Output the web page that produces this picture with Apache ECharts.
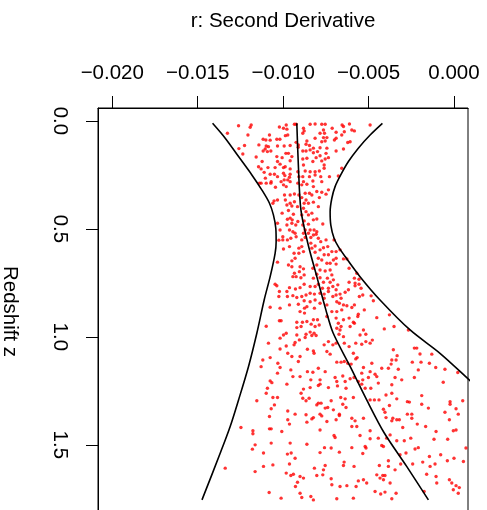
<!DOCTYPE html>
<html>
<head>
<meta charset="utf-8">
<script src="https://cdn.jsdelivr.net/npm/echarts@6/dist/echarts.min.js"></script>
<style>
html,body{margin:0;padding:0;background:#fff;}
#chart{width:487px;height:510px;}
</style>
</head>
<body>
<div id="chart"></div>
<script>
// ---- data ----
const xTicks = [-0.020, -0.015, -0.010, -0.005, 0.000];
const zTicks = [0.0, 0.5, 1.0, 1.5];

const centerLine = [[-0.00920,0.011],[-0.00911,0.204],[-0.00896,0.412],[-0.00856,0.565],[-0.00803,0.721],[-0.00750,0.875],[-0.00708,0.981],[-0.00608,1.137],[-0.00511,1.292],[-0.00409,1.444],[-0.00277,1.600],[-0.00150,1.755]];

const leftBand = [[-0.01413,0.011],[-0.01339,0.080],[-0.01261,0.165],[-0.01183,0.250],[-0.01125,0.319],[-0.01080,0.381],[-0.01057,0.435],[-0.01043,0.497],[-0.01041,0.559],[-0.01047,0.613],[-0.01076,0.721],[-0.01111,0.829],[-0.01154,0.983],[-0.01203,1.138],[-0.01261,1.292],[-0.01310,1.415],[-0.01368,1.538],[-0.01475,1.755]];

const rightBand = [[-0.00419,0.011],[-0.00491,0.065],[-0.00560,0.126],[-0.00618,0.188],[-0.00663,0.250],[-0.00696,0.304],[-0.00715,0.358],[-0.00725,0.420],[-0.00721,0.482],[-0.00702,0.543],[-0.00677,0.582],[-0.00637,0.628],[-0.00550,0.721],[-0.00433,0.829],[-0.00257,0.968],[-0.00082,1.076],[0.00078,1.191],[0.00240,1.310]];

const points = [
[-0.01261,0.022],[-0.01187,0.019],[-0.01193,0.029],[-0.01326,0.057],[-0.01206,0.065],[-0.01259,0.128],[-0.01226,0.114],[-0.01236,0.153],[-0.01117,0.085],[-0.01101,0.088],[-0.01076,0.089],[-0.01080,0.065],[-0.01037,0.085],[-0.01019,0.085],[-0.01022,0.028],[-0.00998,0.034],[-0.00978,0.038],[-0.00982,0.019],[-0.00934,0.015],[-0.00924,0.015],[-0.00987,0.068],[-0.00973,0.065],[-0.01142,0.111],[-0.01099,0.116],[-0.01086,0.119],[-0.01105,0.130],[-0.01072,0.139],[-0.01117,0.139],[-0.01092,0.142],[-0.01033,0.116],[-0.00994,0.116],[-0.00959,0.114],[-0.00924,0.099],[-0.00911,0.111],[-0.00912,0.122],[-0.01158,0.167],[-0.01123,0.188],[-0.01037,0.165],[-0.01006,0.170],[-0.01033,0.188],[-0.01018,0.200],[-0.00949,0.165],[-0.00959,0.184],[-0.00984,0.150],[-0.00969,0.150],[-0.01144,0.212],[-0.01129,0.222],[-0.01089,0.216],[-0.01111,0.238],[-0.01076,0.247],[-0.01051,0.247],[-0.01033,0.258],[-0.00998,0.242],[-0.00990,0.253],[-0.00963,0.261],[-0.00959,0.247],[-0.00959,0.222],[-0.00914,0.235],[-0.00988,0.212],[-0.00998,0.216],[-0.01047,0.216],[-0.01104,0.265],[-0.01070,0.281],[-0.01129,0.288],[-0.01099,0.288],[-0.01072,0.288],[-0.01045,0.307],[-0.01012,0.281],[-0.00994,0.273],[-0.00973,0.273],[-0.00959,0.281],[-0.00998,0.296],[-0.00982,0.304],[-0.00908,0.258],[-0.00914,0.288],[-0.01139,0.288],[-0.00992,0.343],[-0.00959,0.343],[-0.00934,0.338],[-0.00908,0.343],[-0.00987,0.366],[-0.00959,0.381],[-0.00934,0.374],[-0.00978,0.389],[-0.00916,0.397],[-0.00949,0.394],[-0.01033,0.366],[-0.01053,0.370],[-0.01060,0.381],[-0.00969,0.415],[-0.00940,0.432],[-0.01006,0.427],[-0.01033,0.474],[-0.00975,0.455],[-0.00959,0.450],[-0.00947,0.458],[-0.00949,0.474],[-0.00978,0.482],[-0.00926,0.482],[-0.00963,0.505],[-0.00943,0.513],[-0.01018,0.505],[-0.01002,0.536],[-0.01025,0.552],[-0.01002,0.551],[-0.00975,0.551],[-0.00955,0.543],[-0.00924,0.536],[-0.00930,0.520],[-0.00914,0.466],
[-0.00881,0.034],[-0.00877,0.046],[-0.00885,0.057],[-0.00842,0.015],[-0.00813,0.014],[-0.00774,0.015],[-0.00754,0.015],[-0.00764,0.042],[-0.00784,0.057],[-0.00758,0.057],[-0.00813,0.080],[-0.00861,0.093],[-0.00866,0.108],[-0.00846,0.114],[-0.00885,0.139],[-0.00866,0.139],[-0.00842,0.134],[-0.00823,0.126],[-0.00823,0.147],[-0.00799,0.142],[-0.00784,0.124],[-0.00774,0.096],[-0.00754,0.093],[-0.00744,0.077],[-0.00764,0.077],[-0.00744,0.126],[-0.00749,0.150],[-0.00784,0.161],[-0.00807,0.170],[-0.00885,0.176],[-0.00861,0.173],[-0.00826,0.188],[-0.00774,0.185],[-0.00754,0.176],[-0.00735,0.170],[-0.00760,0.204],[-0.00881,0.204],[-0.00871,0.232],[-0.00842,0.235],[-0.00813,0.235],[-0.00788,0.232],[-0.00760,0.219],[-0.00813,0.250],[-0.00846,0.258],[-0.00885,0.258],[-0.00780,0.258],[-0.00729,0.258],[-0.00690,0.139],[-0.00647,0.130],[-0.00622,0.100],[-0.00608,0.096],[-0.00700,0.088],[-0.00690,0.080],[-0.00657,0.065],[-0.00642,0.050],[-0.00647,0.026],[-0.00655,0.019],[-0.00612,0.014],[-0.00598,0.042],[-0.00583,0.046],[-0.00690,0.052],[-0.00713,0.034],[-0.00491,0.019],[-0.00657,0.219],[-0.00677,0.255],[-0.00881,0.281],[-0.00861,0.293],[-0.00891,0.296],[-0.00826,0.278],[-0.00774,0.281],[-0.00823,0.304],[-0.00871,0.335],[-0.00846,0.335],[-0.00832,0.343],[-0.00803,0.327],[-0.00774,0.330],[-0.00749,0.339],[-0.00735,0.319],[-0.00788,0.355],[-0.00891,0.355],[-0.00866,0.366],[-0.00877,0.381],[-0.00852,0.381],[-0.00823,0.376],[-0.00794,0.397],[-0.00881,0.404],[-0.00866,0.420],[-0.00832,0.427],[-0.00852,0.435],[-0.00891,0.435],[-0.00823,0.458],[-0.00803,0.454],[-0.00877,0.463],[-0.00885,0.482],[-0.00852,0.478],[-0.00768,0.477],[-0.00871,0.505],[-0.00842,0.505],[-0.00819,0.505],[-0.00803,0.513],[-0.00881,0.520],[-0.00852,0.520],[-0.00823,0.528],[-0.00807,0.525],[-0.00838,0.540],[-0.00871,0.540],[-0.00794,0.543],[-0.00780,0.559],[-0.00749,0.551],[-0.00702,0.551],[-0.00891,0.551],[-0.00838,0.566],
[-0.00998,0.593],[-0.00963,0.582],[-0.00936,0.613],[-0.00908,0.589],[-0.00891,0.582],[-0.00881,0.605],[-0.00908,0.613],[-0.00930,0.636],[-0.00949,0.648],[-0.00969,0.667],[-0.00949,0.675],[-0.01033,0.654],[-0.00901,0.675],[-0.00881,0.685],[-0.00905,0.698],[-0.00934,0.705],[-0.00924,0.721],[-0.00943,0.721],[-0.00877,0.713],[-0.00896,0.726],[-0.00832,0.589],[-0.00813,0.579],[-0.00813,0.608],[-0.00784,0.597],[-0.00764,0.587],[-0.00739,0.582],[-0.00735,0.620],[-0.00760,0.620],[-0.00794,0.636],[-0.00774,0.644],[-0.00715,0.605],[-0.00706,0.644],[-0.00725,0.659],[-0.00744,0.659],[-0.00803,0.667],[-0.00826,0.682],[-0.00784,0.690],[-0.00754,0.695],[-0.00725,0.690],[-0.00715,0.713],[-0.00803,0.710],[-0.00823,0.728],[-0.00784,0.726],[-0.00741,0.728],[-0.00764,0.747],[-0.00794,0.756],[-0.00725,0.747],[-0.00706,0.736],[-0.00709,0.767],[-0.00735,0.775],[-0.00770,0.775],[-0.00813,0.767],[-0.00842,0.767],[-0.00877,0.756],[-0.00901,0.772],[-0.00928,0.778],[-0.00963,0.772],[-0.00978,0.790],[-0.01022,0.790],[-0.01037,0.763],[-0.01047,0.756],[-0.01025,0.813],[-0.00975,0.813],[-0.00943,0.809],[-0.00920,0.818],[-0.00891,0.813],[-0.00866,0.806],[-0.00842,0.798],[-0.00817,0.802],[-0.00784,0.798],[-0.00760,0.802],[-0.00735,0.790],[-0.00709,0.813],[-0.00760,0.821],[-0.00813,0.829],[-0.00842,0.837],[-0.00877,0.833],[-0.00911,0.849],[-0.00963,0.852],[-0.01018,0.867],[-0.01076,0.863],[-0.00875,0.867],[-0.00861,0.860],[-0.00784,0.844],[-0.00744,0.852],[-0.00817,0.867],[-0.00715,0.883],[-0.00901,0.883],[-0.00875,0.890],[-0.00744,0.906],[-0.00823,0.921],[-0.00799,0.921],[-0.00861,0.929],[-0.00887,0.932],[-0.00920,0.932],[-0.01012,0.925],[-0.01022,0.925],[-0.01099,0.951],[-0.00920,0.957],[-0.00895,0.952],[-0.00836,0.941],[-0.00789,0.945],[-0.00813,0.952],[-0.00982,0.983],[-0.00998,0.991],[-0.00920,0.991],[-0.00866,0.988],[-0.00842,0.978],[-0.00819,0.983],[-0.00807,0.994],[-0.00832,0.994],[-0.00871,1.003],[-0.01018,1.006],[-0.00905,1.014],[-0.00930,1.026],[-0.00936,1.037],[-0.00735,1.022],[-0.00760,1.037],[-0.00709,1.037],[-0.01086,1.029],[-0.00982,1.042],[-0.01018,1.056],[-0.00973,1.076],[-0.00858,1.057],[-0.00823,1.065],[-0.00819,1.076],[-0.00744,1.068],[-0.00725,1.080],[-0.01076,1.096],[-0.01119,1.107],[-0.00949,1.091],[-0.00901,1.091],[-0.00911,1.114],[-0.01031,1.122],[-0.01129,1.138],[-0.01018,1.142],[-0.00955,1.153],[-0.00858,1.161],[-0.00826,1.164],[-0.00794,1.145],[-0.00754,1.161],[-0.01033,1.168],
[-0.00690,0.605],[-0.00667,0.597],[-0.00690,0.636],[-0.00647,0.639],[-0.00627,0.639],[-0.00690,0.663],[-0.00614,0.682],[-0.00569,0.705],[-0.00583,0.728],[-0.00556,0.733],[-0.00614,0.747],[-0.00579,0.751],[-0.00579,0.763],[-0.00556,0.756],[-0.00544,0.775],[-0.00680,0.759],[-0.00690,0.782],[-0.00618,0.782],[-0.00637,0.793],[-0.00690,0.806],[-0.00667,0.802],[-0.00661,0.821],[-0.00554,0.813],[-0.00534,0.806],[-0.00485,0.810],[-0.00472,0.833],[-0.00686,0.837],[-0.00671,0.844],[-0.00647,0.852],[-0.00627,0.856],[-0.00598,0.864],[-0.00583,0.852],[-0.00657,0.875],[-0.00686,0.883],[-0.00525,0.875],[-0.00560,0.895],[-0.00563,0.906],[-0.00614,0.913],[-0.00647,0.921],[-0.00690,0.913],[-0.00589,0.932],[-0.00583,0.937],[-0.00677,0.937],[-0.00452,0.911],[-0.00378,0.898],[-0.00661,0.952],[-0.00608,0.952],[-0.00686,0.960],[-0.00667,0.968],[-0.00530,0.968],[-0.00408,0.963],[-0.00351,0.952],[-0.00267,0.968],[-0.00550,0.991],[-0.00673,0.988],[-0.00647,0.999],[-0.00516,0.988],[-0.00478,1.015],[-0.00516,1.022],[-0.00540,1.034],[-0.00491,1.029],[-0.00575,1.029],[-0.00642,1.029],[-0.00614,1.045],[-0.00690,1.029],[-0.00232,1.052],[-0.00218,1.052],[-0.00355,1.060],[-0.00333,1.087],[-0.00199,1.079],[-0.00130,1.080],[-0.00589,1.076],[-0.00567,1.096],[-0.00575,1.102],[-0.00642,1.114],[-0.00622,1.122],[-0.00602,1.126],[-0.00686,1.117],[-0.00661,1.117],[-0.00481,1.122],[-0.00530,1.142],[-0.00423,1.145],[-0.00384,1.145],[-0.00364,1.107],[-0.00339,1.107],[-0.00368,1.126],[-0.00244,1.117],[-0.00193,1.117],[-0.00144,1.122],[-0.00107,1.142],[-0.00209,1.153],[-0.00326,1.150],[-0.00540,1.168],[-0.00491,1.161],[-0.00462,1.173],[-0.00053,1.150],[0.00022,1.165],
[-0.01076,1.204],[-0.01066,1.212],[-0.00978,1.219],[-0.00943,1.184],[-0.00901,1.184],[-0.00838,1.199],[-0.00784,1.199],[-0.00794,1.225],[-0.00784,1.219],[-0.00735,1.235],[-0.00842,1.235],[-0.00881,1.242],[-0.01092,1.238],[-0.01099,1.261],[-0.00895,1.261],[-0.01060,1.281],[-0.01033,1.281],[-0.00885,1.284],[-0.00866,1.296],[-0.00848,1.284],[-0.00794,1.307],[-0.00803,1.315],[-0.00778,1.307],[-0.01154,1.296],[-0.01051,1.315],[-0.01070,1.333],[-0.00973,1.343],[-0.00930,1.358],[-0.00866,1.361],[-0.00832,1.380],[-0.00823,1.374],[-0.00784,1.358],[-0.00774,1.366],[-0.00754,1.330],[-0.00739,1.327],[-0.01080,1.369],[-0.00973,1.384],[-0.00963,1.404],[-0.00861,1.395],[-0.00744,1.392],[-0.01247,1.420],[-0.01080,1.426],[-0.01070,1.426],[-0.01177,1.435],[-0.01177,1.449],[-0.01008,1.438],[-0.00784,1.431],[-0.01070,1.492],[-0.00959,1.492],[-0.00861,1.497],[-0.01164,1.500],[-0.01180,1.520],[-0.01115,1.538],[-0.00975,1.543],[-0.00953,1.538],[-0.00784,1.536],[-0.00758,1.513],[-0.00930,1.562],[-0.01060,1.593],[-0.01115,1.600],[-0.00963,1.589],[-0.00817,1.608],[-0.00754,1.596],[-0.00764,1.616],[-0.01339,1.608],[-0.01164,1.624],[-0.00982,1.631],[-0.00955,1.642],[-0.00940,1.636],[-0.00901,1.647],[-0.00881,1.654],[-0.00803,1.642],[-0.00768,1.639],[-0.00916,1.673],[-0.00928,1.693],[-0.01082,1.721],[-0.00901,1.724],[-0.00891,1.744],[-0.00838,1.739],[-0.00823,1.755],[-0.01012,1.747],
[-0.00696,1.188],[-0.00686,1.207],[-0.00682,1.227],[-0.00651,1.181],[-0.00637,1.207],[-0.00632,1.238],[-0.00608,1.194],[-0.00585,1.188],[-0.00560,1.207],[-0.00534,1.199],[-0.00501,1.188],[-0.00452,1.184],[-0.00443,1.214],[-0.00540,1.219],[-0.00520,1.238],[-0.00487,1.238],[-0.00364,1.222],[-0.00345,1.188],[-0.00306,1.199],[-0.00232,1.188],[-0.00364,1.261],[-0.00398,1.269],[-0.00335,1.287],[-0.00273,1.300],[-0.00261,1.302],[-0.00189,1.272],[-0.00189,1.312],[-0.00063,1.210],[0.00051,1.296],[-0.00023,1.300],[-0.00023,1.312],[-0.00719,1.296],[-0.00663,1.281],[-0.00637,1.287],[-0.00632,1.327],[-0.00589,1.281],[-0.00651,1.312],[-0.00706,1.338],[-0.00671,1.358],[-0.00671,1.364],[-0.00690,1.384],[-0.00598,1.377],[-0.00579,1.389],[-0.00598,1.415],[-0.00569,1.415],[-0.00530,1.377],[-0.00491,1.292],[-0.00466,1.292],[-0.00439,1.292],[-0.00413,1.335],[-0.00404,1.349],[-0.00378,1.318],[-0.00398,1.374],[-0.00358,1.377],[-0.00364,1.389],[-0.00335,1.384],[-0.00320,1.384],[-0.00300,1.420],[-0.00273,1.358],[-0.00247,1.358],[-0.00215,1.404],[-0.00247,1.377],[-0.00166,1.415],[-0.00150,1.330],[-0.00053,1.349],[0.00012,1.333],[0.00025,1.358],[-0.00027,1.384],[0.00012,1.431],[-0.00004,1.435],[-0.00037,1.474],[-0.00105,1.438],[-0.00117,1.474],[-0.00702,1.457],[-0.00696,1.466],[-0.00719,1.515],[-0.00671,1.534],[-0.00598,1.513],[-0.00550,1.457],[-0.00491,1.435],[-0.00491,1.472],[-0.00443,1.469],[-0.00413,1.508],[-0.00423,1.503],[-0.00394,1.469],[-0.00520,1.508],[-0.00515,1.515],[-0.00534,1.540],[-0.00374,1.454],[-0.00335,1.481],[-0.00291,1.481],[-0.00253,1.469],[-0.00228,1.519],[-0.00209,1.513],[-0.00281,1.538],[-0.00316,1.546],[-0.00312,1.589],[-0.00384,1.574],[-0.00384,1.600],[-0.00345,1.616],[-0.00437,1.596],[-0.00452,1.639],[-0.00417,1.642],[-0.00404,1.642],[-0.00413,1.662],[-0.00433,1.654],[-0.00374,1.677],[-0.00462,1.716],[-0.00429,1.728],[-0.00404,1.719],[-0.00339,1.724],[-0.00511,1.677],[-0.00530,1.662],[-0.00560,1.667],[-0.00573,1.693],[-0.00627,1.689],[-0.00667,1.693],[-0.00715,1.685],[-0.00719,1.657],[-0.00643,1.580],[-0.00647,1.596],[-0.00585,1.600],[-0.00686,1.750],[-0.00589,1.747],[-0.00364,1.750],[-0.00242,1.589],[-0.00183,1.580],[-0.00144,1.554],[-0.00140,1.600],[-0.00111,1.589],[-0.00078,1.546],[-0.00039,1.574],[0.00000,1.562],[0.00070,1.515],[-0.00160,1.636],[-0.00105,1.647],[-0.00101,1.677],[-0.00027,1.662],[-0.00013,1.677],[0.00012,1.689],[-0.00004,1.708],[0.00025,1.724],[-0.00175,1.716],[0.00055,1.577],[0.00031,1.698]
];

// ---- chart ----
const FONT = '"Liberation Sans", Arial, Helvetica, sans-serif';
const fmtX = v => (v < -1e-9 ? '\u2212' : '') + Math.abs(v).toFixed(3);
const fmtZ = v => v.toFixed(1);

const lineSeries = data => ({
  type: 'line', data: data, showSymbol: false,
  smooth: 0.3,
  lineStyle: {color: '#000', width: 1.6}, silent: true, z: 3
});

const chart = echarts.init(document.getElementById('chart'), null, {renderer: 'canvas'});
chart.setOption({
  animation: false,
  backgroundColor: '#ffffff',
  grid: {
    left: 98, top: 108, width: 370, height: 407,
    containLabel: false,
    outerBoundsMode: 'none',
    show: true, borderColor: '#000', borderWidth: 1, backgroundColor: 'transparent'
  },
  xAxis: {
    type: 'value',
    position: 'top',
    min: -0.020836,
    max: 0.000819,
    name: 'r: Second Derivative',
    nameLocation: 'middle',
    nameGap: 76,
    nameTextStyle: {fontFamily: FONT, fontSize: 20.5, color: '#000', align: 'center', verticalAlign: 'bottom'},
    axisLine: {show: true, onZero: false, lineStyle: {color: '#000', width: 1}},
    axisTick: {show: true, length: 12, customValues: xTicks, lineStyle: {color: '#000', width: 1}},
    axisLabel: {customValues: xTicks, formatter: fmtX, fontFamily: FONT, fontSize: 20.5, color: '#000', margin: 24},
    splitLine: {show: false}
  },
  yAxis: {
    type: 'value',
    inverse: true,
    min: -0.06,
    max: 1.825,
    name: 'Redshift z',
    nameLocation: 'middle',
    nameGap: 78,
    nameRotate: -90,
    nameTextStyle: {fontFamily: FONT, fontSize: 20.5, color: '#000', align: 'center', verticalAlign: 'top'},
    axisLine: {show: true, onZero: false, lineStyle: {color: '#000', width: 1}},
    axisTick: {show: true, length: 12, customValues: zTicks, lineStyle: {color: '#000', width: 1}},
    axisLabel: {customValues: zTicks, formatter: fmtZ, rotate: -90, align: 'center', verticalAlign: 'top', fontFamily: FONT, fontSize: 20.5, color: '#000', margin: 28},
    splitLine: {show: false}
  },
  series: [
    {type: 'scatter', data: points, symbol: 'circle', symbolSize: 3.4, itemStyle: {color: '#ff0000'}, silent: true, z: 2},
    lineSeries(leftBand),
    lineSeries(centerLine),
    lineSeries(rightBand)
  ]
});
</script>
</body>
</html>
